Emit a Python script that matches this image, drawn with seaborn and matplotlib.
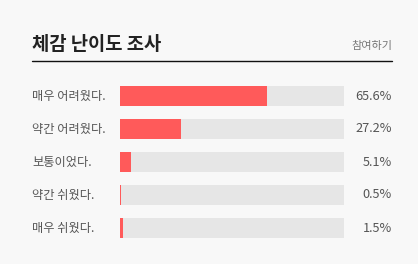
import matplotlib
matplotlib.use("Agg")
import matplotlib.pyplot as plt
import matplotlib.transforms as mtransforms
import seaborn as sns
import pandas as pd

title = "체감 난이도 조사"
link_text = "참여하기"
categories = ["매우 어려웠다.", "약간 어려웠다.", "보통이었다.", "약간 쉬웠다.", "매우 쉬웠다."]
values = [65.6, 27.2, 5.1, 0.5, 1.5]
value_labels = ["65.6%", "27.2%", "5.1%", "0.5%", "1.5%"]

sns.set_theme(style="white")
plt.rcParams['font.family'] = ['Noto Sans CJK KR', 'DejaVu Sans']

W, H = 418, 264
bg = "#f8f8f8"
fig = plt.figure(figsize=(W / 100, H / 100), dpi=100, facecolor=bg)

# axes for bars: x 120..344 px, rows centered at 96..228 px, spacing 33
ax = fig.add_axes([120 / W, 1 - 244.5 / H, 224 / W, 165 / H])
ax.set_facecolor(bg)

df = pd.DataFrame({"cat": categories, "val": values, "full": [100] * len(values)})
bw = 20 / 33
sns.barplot(data=df, y="cat", x="full", color="#e6e6e6", width=bw, ax=ax,
            saturation=1, orient="h", linewidth=0)
sns.barplot(data=df, y="cat", x="val", color="#ff5a5a", width=bw, ax=ax,
            saturation=1, orient="h", linewidth=0)
ax.set_xlim(0, 100)
ax.set_ylim(len(categories) - 0.5, -0.5)
ax.axis("off")

trans = mtransforms.blended_transform_factory(fig.transFigure, ax.transData)
for i, (c, vl) in enumerate(zip(categories, value_labels)):
    fig.text(32 / W, i, c, transform=trans, ha="left", va="center",
             fontsize=8.8, color="#555555")
    fig.text(392 / W, i, vl, transform=trans, ha="right", va="center",
             fontsize=9.2, color="#555555")

fig.text(32 / W, 1 - 45 / H, title, ha="left", va="center", fontsize=13.5,
         fontweight="bold", color="#222222")
fig.text(392 / W, 1 - 46 / H, link_text, ha="right", va="center", fontsize=8,
         color="#777777")
fig.add_artist(plt.Line2D([32 / W, 392 / W], [1 - 61 / H, 1 - 61 / H],
                          color="#111111", linewidth=1.0, transform=fig.transFigure))

fig.savefig("out.png", dpi=100, facecolor=bg)
